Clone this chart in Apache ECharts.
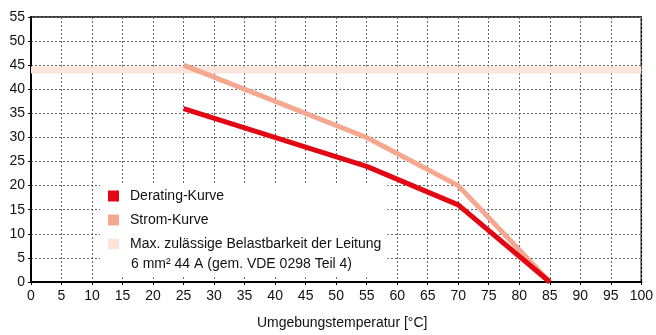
<!DOCTYPE html>
<html>
<head>
<meta charset="utf-8">
<script src="https://cdn.jsdelivr.net/npm/echarts@6/dist/echarts.min.js"></script>
<style>
  html, body { margin: 0; padding: 0; background: #fff; }
  #chart { width: 656px; height: 335px; }
</style>
</head>
<body>
<div id="chart"></div>
<script>
// Werte
const deratingTemp = [25, 55, 70, 85]
const deratingCurrent = [36, 24, 16, 0]
const stromTemp = [25, 55, 70, 85]
const stromCurrent = [45, 30, 20, 0]
const maxTemp = [0, 100]
const maxCurrent = [44, 44]

const seriesNames = ['Derating-Kurve', 'Strom-Kurve', 'Max. zulässige Belastbarkeit der Leitung']
const legendSecondLine = '6 mm² 44 A (gem. VDE 0298 Teil 4)'
const xTitle = 'Umgebungstemperatur [°C]'

const pairs = (xs, ys) => xs.map((x, i) => [x, ys[i]])

const font = 'Liberation Sans, Arial, sans-serif'
const chart = echarts.init(document.getElementById('chart'))
chart.setOption({
  animation: false,
  grid: {
    left: 31, right: 11, top: 17, bottom: 53,
    show: true, borderColor: '#000', borderWidth: 1.5
  },
  legend: {
    orient: 'vertical',
    left: 100,
    top: 185,
    padding: [4, 6, 26, 8],
    backgroundColor: '#fff',
    itemWidth: 11,
    itemHeight: 11,
    itemGap: 10,
    icon: 'rect',
    textStyle: { fontFamily: font, fontSize: 14, color: '#111', padding: [0, 0, 0, 6] },
    data: seriesNames
  },
  graphic: [{
    type: 'text',
    left: 131,
    top: 257,
    z: 100,
    style: { text: legendSecondLine, font: '14px ' + font, fill: '#111' }
  }],
  xAxis: {
    type: 'value',
    min: 0, max: 100, interval: 5,
    name: xTitle,
    nameLocation: 'middle',
    nameGap: 34,
    nameTextStyle: { fontFamily: font, fontSize: 14, color: '#111', padding: [0, 0, 0, 12] },
    axisLine: { lineStyle: { color: '#000', width: 2 } },
    axisTick: { show: true, length: 3, lineStyle: { color: '#000' } },
    axisLabel: { fontFamily: font, fontSize: 14, color: '#111', margin: 7 },
    splitLine: { show: true, lineStyle: { color: '#666', type: [2, 2], width: 1 } }
  },
  yAxis: {
    type: 'value',
    min: 0, max: 55, interval: 5,
    axisLine: { show: true, lineStyle: { color: '#000', width: 2 } },
    axisTick: { show: true, length: 3, lineStyle: { color: '#000' } },
    axisLabel: { fontFamily: font, fontSize: 14, color: '#111', margin: 6 },
    splitLine: { show: true, lineStyle: { color: '#666', type: [2, 2], width: 1 } }
  },
  series: [
    {
      name: seriesNames[0],
      type: 'line',
      data: pairs(deratingTemp, deratingCurrent),
      showSymbol: false,
      z: 4,
      color: '#e30613',
      lineStyle: { width: 5, color: '#e30613', join: 'round' }
    },
    {
      name: seriesNames[1],
      type: 'line',
      data: pairs(stromTemp, stromCurrent),
      showSymbol: false,
      z: 3,
      color: '#f4a890',
      lineStyle: { width: 5, color: '#f4a890', join: 'round' }
    },
    {
      name: seriesNames[2],
      type: 'line',
      data: pairs(maxTemp, maxCurrent),
      showSymbol: false,
      z: 2,
      color: '#fce4da',
      lineStyle: { width: 7, color: '#fce4da' }
    }
  ]
})
</script>
</body>
</html>
